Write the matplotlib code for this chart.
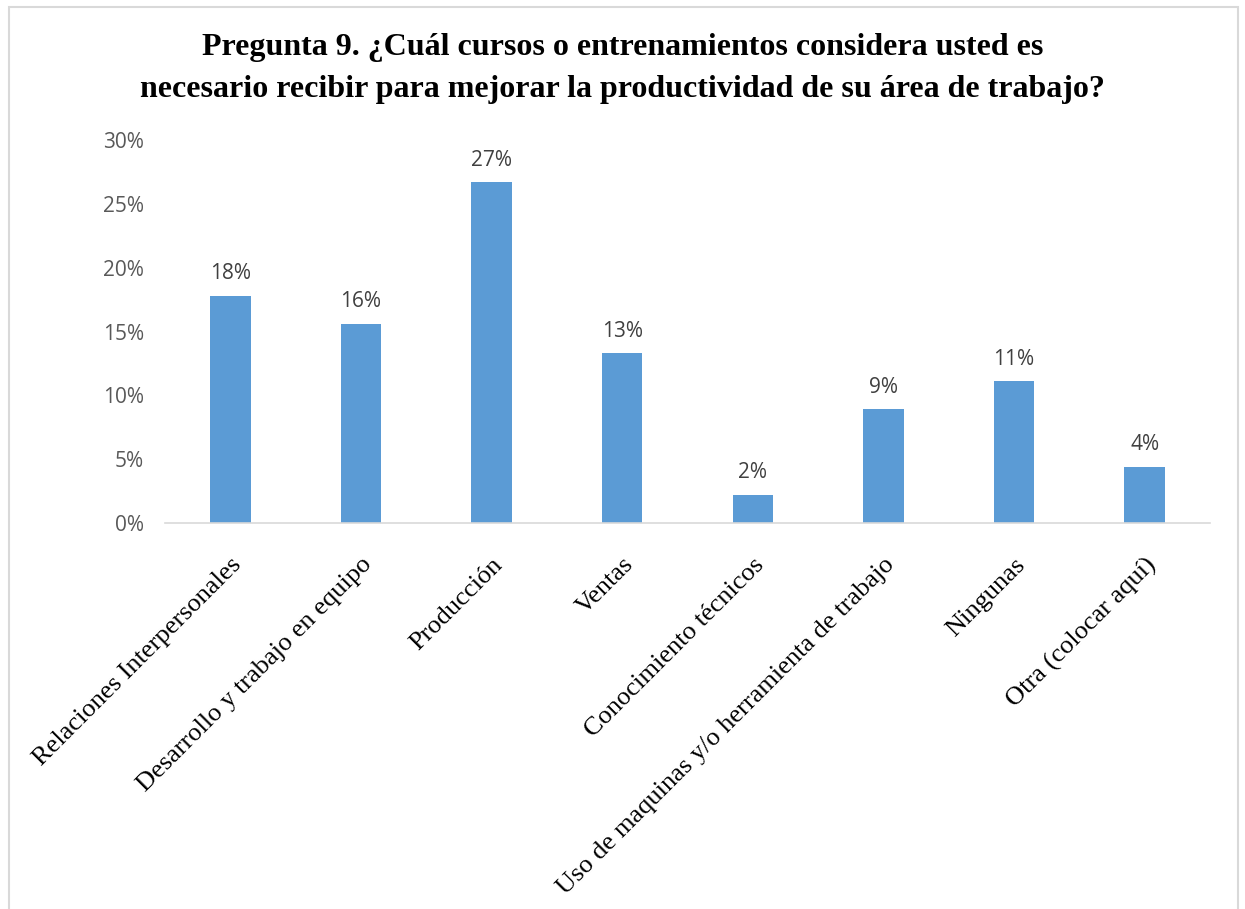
import matplotlib.pyplot as plt
from matplotlib.patches import Rectangle

# Datos
categorias = ['Relaciones Interpersonales', 'Desarrollo y trabajo en equipo', 'Producción',
              'Ventas', 'Conocimiento técnicos', 'Uso de maquinas y/o herramienta de trabajo',
              'Ningunas', 'Otra (colocar aquí)']
valores = [17.8, 15.6, 26.7, 13.3, 2.2, 8.9, 11.1, 4.4]
ticks_y = [0, 5, 10, 15, 20, 25, 30]

fig = plt.figure(figsize=(12.45, 9.09), dpi=100)
ax = fig.add_axes([165/1245, 1 - 523/909, (1210-165)/1245, (523-140)/909])

x = range(len(categorias))
ax.bar(x, valores, width=0.31, color='#5b9bd5')
for i, v in enumerate(valores):
    ax.text(i, v + 0.9, f'{v:.0f}%', ha='center', va='bottom', fontsize=15,
            color='#404040', family='Open Sans')

ax.set_xlim(-0.5, len(categorias) - 0.5)
ax.set_ylim(0, 30)
ax.set_yticks(ticks_y)
ax.set_yticklabels([f'{t}%' for t in ticks_y], fontsize=15, color='#595959', family='Open Sans')
ax.set_xticks(list(x))
ax.set_xticklabels(categorias, rotation=45, ha='right', rotation_mode='anchor',
                   fontsize=19, family='Liberation Serif')
ax.tick_params(length=0)
ax.tick_params(axis='y', pad=15)
ax.tick_params(axis='x', pad=22)
for s in ['top', 'right', 'left']:
    ax.spines[s].set_visible(False)
ax.spines['bottom'].set_color('#d9d9d9')
ax.spines['bottom'].set_linewidth(1.2)

fig.text(0.5, 1 - 48/909, 'Pregunta 9. ¿Cuál cursos o entrenamientos considera usted es',
         ha='center', va='center', fontsize=23, fontweight='bold', family='Liberation Serif')
fig.text(0.5, 1 - 90/909, 'necesario recibir para mejorar la productividad de su área de trabajo?',
         ha='center', va='center', fontsize=23, fontweight='bold', family='Liberation Serif')

# borde del gráfico
fig.patches.append(Rectangle((9/1245, -0.01), (1238-9)/1245, 1 - 7/909 + 0.01,
                             transform=fig.transFigure, fill=False,
                             edgecolor='#d9d9d9', linewidth=1.5))

fig.savefig('out.png', dpi=100)
